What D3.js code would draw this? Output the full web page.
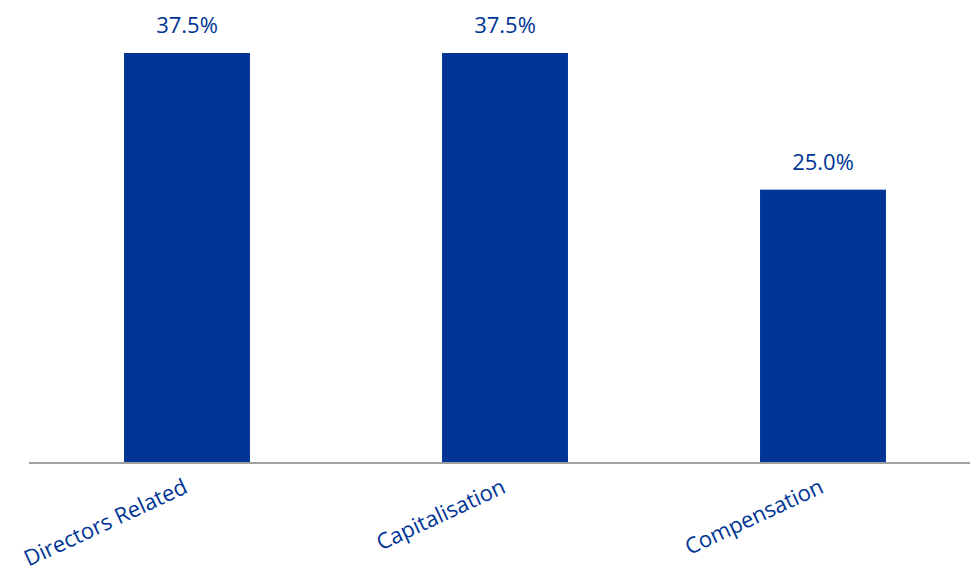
<!DOCTYPE html>
<html>
  <head>
    <meta charset="utf-8">
    <style>
      body { margin: 0; background: #fff; }
      text { font-family: "Open Sans", sans-serif; fill: #003595; }
    </style>
    <script src="https://cdnjs.cloudflare.com/ajax/libs/d3/7.8.5/d3.min.js"></script>
  </head>
  <body>
    <svg width="970" height="572" id="SVG"></svg>
    <script>
      var categories = ["Directors Related", "Capitalisation", "Compensation"];
      var values = [37.5, 37.5, 25.0];

      var svg = d3.select("#SVG");
      var baseY = 463, topY = 53;

      var x = d3.scaleBand().domain(categories).range([28, 982]).paddingInner(0.604).paddingOuter(0.302);
      var y = d3.scaleLinear().domain([0, 37.5]).range([baseY, topY]);

      var data = categories.map(function(c, i) { return { name: c, value: values[i] } });

      svg.selectAll(".bar")
         .data(data)
         .enter()
         .append("rect")
         .attr("class", "bar")
         .attr("x", function(d) { return x(d.name) })
         .attr("y", function(d) { return y(d.value) })
         .attr("width", x.bandwidth())
         .attr("height", function(d) { return baseY - y(d.value) })
         .attr("fill", "#003595");

      svg.selectAll(".bartext")
         .data(data)
         .enter()
         .append("text")
         .attr("class", "bartext")
         .attr("x", function(d) { return x(d.name) + x.bandwidth() / 2 })
         .attr("y", function(d) { return y(d.value) - 20 })
         .attr("text-anchor", "middle")
         .style("font-size", "22px")
         .text(function(d) { return d.value.toFixed(1) + "%" });

      // baseline axis
      svg.append("line")
         .attr("x1", 29).attr("x2", 970)
         .attr("y1", baseY).attr("y2", baseY)
         .attr("stroke", "#a0a0a0")
         .attr("stroke-width", 2);

      svg.selectAll(".cat")
         .data(categories)
         .enter()
         .append("text")
         .attr("class", "cat")
         .attr("text-anchor", "end")
         .style("font-size", "22px")
         .attr("transform", function(d) {
           return "translate(" + (x(d) + x.bandwidth() / 2 + 2) + ",492) rotate(-25)";
         })
         .text(function(d) { return d });
    </script>
  </body>
</html>
